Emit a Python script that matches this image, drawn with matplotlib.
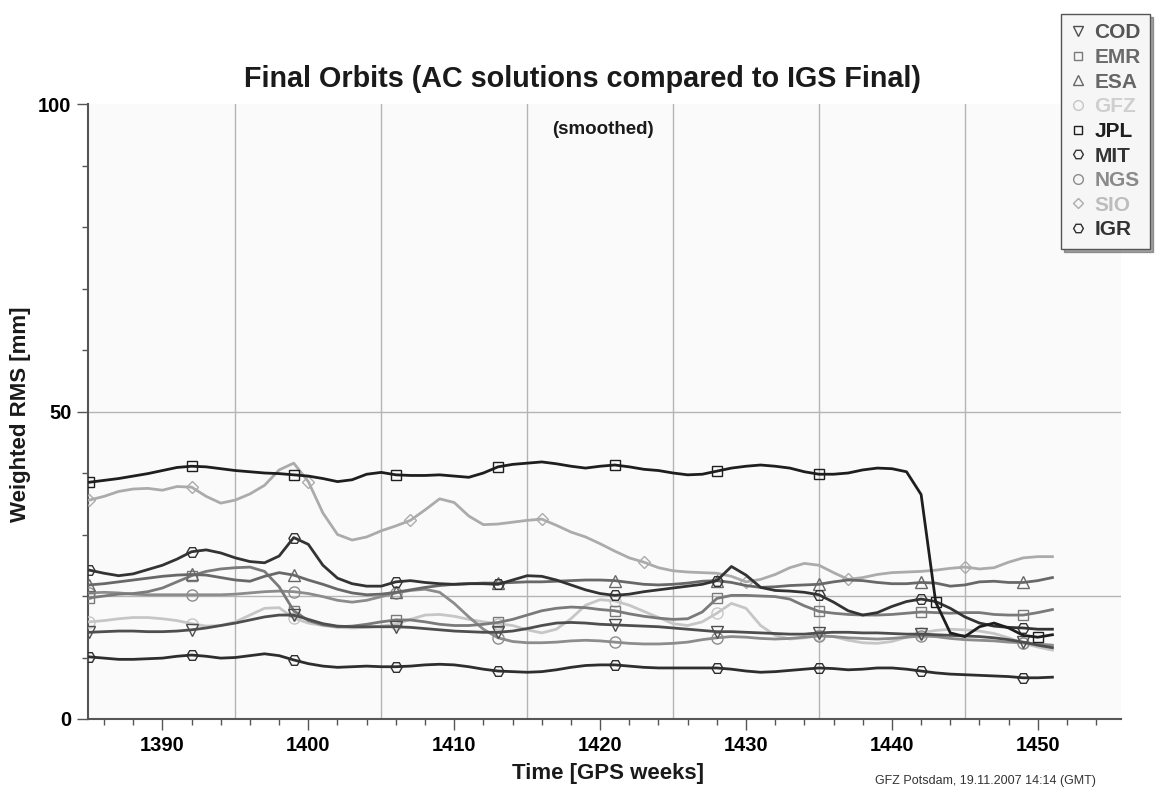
import matplotlib
matplotlib.use("Agg")
import matplotlib.pyplot as plt
from matplotlib.lines import Line2D
from matplotlib.ticker import MultipleLocator, FixedLocator

plt.rcParams['font.family'] = ['Liberation Sans', 'DejaVu Sans']
plt.rcParams['font.weight'] = 'bold'

weeks = list(range(1385, 1452))

cod = [14.1, 14.2, 14.3, 14.3, 14.2, 14.2, 14.3, 14.5, 14.8, 15.2, 15.6, 16.1, 16.6, 16.9, 16.9, 16.2, 15.5, 15.1, 15.0, 15.0,
       15.0, 15.0, 14.9, 14.7, 14.5, 14.3, 14.2, 14.1, 14.1, 14.3, 14.7, 15.2, 15.6, 15.7, 15.6, 15.4, 15.3, 15.2, 15.1, 15.0,
       14.8, 14.6, 14.4, 14.2, 14.2, 14.1, 14.0, 13.9, 13.8, 13.8, 14.0, 14.1, 14.1, 14.0, 14.0, 13.9, 13.8, 13.8, 13.7, 13.6,
       13.5, 13.4, 13.2, 12.9, 12.5, 12.0, 11.6]
emr = [19.7, 20.0, 20.3, 20.4, 20.7, 21.3, 22.3, 23.3, 24.0, 24.4, 24.6, 24.7, 24.0, 21.5, 17.6, 16.0, 15.3, 15.0, 15.1, 15.4,
       15.8, 16.1, 16.1, 15.8, 15.4, 15.2, 15.2, 15.4, 15.7, 16.2, 16.9, 17.6, 18.0, 18.2, 18.1, 17.8, 17.6, 17.1, 16.7, 16.4,
       16.2, 16.3, 17.4, 19.6, 20.1, 20.1, 20.0, 19.9, 19.5, 18.4, 17.5, 17.2, 17.0, 16.9, 16.9, 17.0, 17.2, 17.4, 17.3, 17.2,
       17.3, 17.3, 17.0, 16.9, 16.9, 17.3, 17.8]
esa = [21.8, 22.0, 22.3, 22.6, 22.9, 23.2, 23.4, 23.5, 23.4, 23.0, 22.6, 22.4, 23.2, 23.8, 23.4, 22.6, 21.9, 21.1, 20.5, 20.2,
       20.3, 20.6, 21.0, 21.4, 21.7, 21.9, 22.0, 22.1, 22.1, 22.2, 22.3, 22.3, 22.4, 22.5, 22.6, 22.6, 22.5, 22.2, 21.9, 21.8,
       21.9, 22.1, 22.4, 22.5, 22.2, 21.7, 21.4, 21.5, 21.7, 21.8, 21.9, 22.3, 22.6, 22.5, 22.2, 22.0, 22.0, 22.2, 22.1, 21.6,
       21.8, 22.3, 22.4, 22.2, 22.2, 22.5, 23.0]
gfz = [15.8, 16.0, 16.3, 16.5, 16.5, 16.3, 16.0, 15.5, 15.1, 15.2, 15.8, 16.9, 18.0, 18.1, 16.4, 15.6, 15.2, 14.9, 14.8, 14.9,
       15.1, 15.4, 16.2, 16.9, 17.0, 16.7, 16.2, 15.8, 15.5, 15.2, 14.5, 14.0, 14.6, 16.3, 18.5, 19.4, 19.2, 18.5, 17.5, 16.5,
       15.5, 15.2, 15.8, 17.2, 18.8, 18.0, 15.2, 13.6, 13.0, 13.2, 13.6, 13.4, 12.8, 12.4, 12.3, 12.6, 13.3, 14.0, 14.4, 14.6,
       14.5, 14.3, 13.9, 13.2, 12.3, 11.7, 11.2]
jpl = [38.5, 38.8, 39.1, 39.5, 39.9, 40.4, 40.9, 41.1, 41.0, 40.7, 40.4, 40.2, 40.0, 39.9, 39.7, 39.5, 39.1, 38.6, 38.9, 39.8,
       40.1, 39.7, 39.6, 39.6, 39.7, 39.5, 39.3, 40.0, 41.0, 41.4, 41.6, 41.8, 41.5, 41.1, 40.8, 41.1, 41.3, 41.0, 40.6, 40.4,
       40.0, 39.7, 39.8, 40.3, 40.8, 41.1, 41.3, 41.1, 40.8, 40.2, 39.8, 39.8, 40.0, 40.5, 40.8, 40.7, 40.2, 36.5, 19.0, 14.0,
       13.4, 15.0, 15.6, 14.8, 13.6, 13.3, 13.7]
mit = [24.2, 23.7, 23.3, 23.6, 24.3, 25.0, 26.0, 27.2, 27.5, 27.0, 26.2, 25.6, 25.4, 26.5, 29.5, 28.4, 25.0, 22.9, 22.0, 21.6,
       21.6, 22.3, 22.5, 22.2, 22.0, 21.9, 22.0, 22.0, 21.9, 22.6, 23.3, 23.2, 22.6, 21.8, 21.0, 20.4, 20.1, 20.3, 20.7, 21.0,
       21.3, 21.6, 21.9, 22.5, 24.8, 23.4, 21.4, 20.9, 20.8, 20.6, 20.2, 19.0, 17.6, 16.9, 17.3, 18.3, 19.1, 19.5, 19.1, 18.0,
       16.6, 15.6, 15.1, 14.9, 14.8, 14.6, 14.6]
ngs = [20.5, 20.6, 20.5, 20.3, 20.2, 20.2, 20.2, 20.2, 20.2, 20.2, 20.3, 20.5, 20.7, 20.8, 20.7, 20.4, 19.9, 19.3, 19.0, 19.3,
       19.9, 20.5, 20.9, 21.1, 20.6, 18.8, 16.6, 14.6, 13.2, 12.6, 12.4, 12.4, 12.5, 12.7, 12.8, 12.7, 12.5, 12.3, 12.2, 12.2,
       12.3, 12.5, 12.9, 13.2, 13.4, 13.3, 13.1, 13.0, 13.1, 13.3, 13.5, 13.4, 13.2, 13.1, 13.0, 13.1, 13.3, 13.5, 13.4, 13.1,
       12.9, 12.8, 12.7, 12.5, 12.4, 12.2, 12.0]
sio = [35.6, 36.2, 37.0, 37.4, 37.5, 37.2, 37.8, 37.7, 36.2, 35.1, 35.6, 36.6, 38.0, 40.5, 41.6, 38.6, 33.5, 30.0, 29.1, 29.6,
       30.6, 31.4, 32.3, 34.0, 35.8, 35.2, 33.0, 31.6, 31.7, 32.0, 32.3, 32.5, 31.5, 30.4, 29.6, 28.5, 27.3, 26.2, 25.5, 24.6,
       24.1, 23.9, 23.8, 23.7, 23.2, 22.3, 22.7, 23.5, 24.6, 25.3, 25.0, 23.8, 22.7, 23.0, 23.5, 23.8, 23.9, 24.0, 24.2, 24.5,
       24.7, 24.4, 24.6, 25.5, 26.2, 26.4, 26.4]
igr = [10.1, 9.9, 9.7, 9.7, 9.8, 9.9, 10.2, 10.4, 10.2, 9.9, 10.0, 10.3, 10.6, 10.3, 9.6, 9.0, 8.6, 8.4, 8.5, 8.6,
       8.5, 8.5, 8.6, 8.8, 8.9, 8.8, 8.5, 8.1, 7.8, 7.7, 7.6, 7.7, 8.0, 8.4, 8.7, 8.8, 8.8, 8.6, 8.4, 8.3,
       8.3, 8.3, 8.3, 8.3, 8.1, 7.8, 7.6, 7.7, 7.9, 8.1, 8.3, 8.2, 8.0, 8.1, 8.3, 8.3, 8.1, 7.8, 7.5, 7.3,
       7.2, 7.1, 7.0, 6.9, 6.7, 6.7, 6.8]

centers = ['COD', 'EMR', 'ESA', 'GFZ', 'JPL', 'MIT', 'NGS', 'SIO', 'IGR']
series = [cod, emr, esa, gfz, jpl, mit, ngs, sio, igr]
colors = ['#4e4e4e', '#7a7a7a', '#686868', '#c6c6c6', '#1e1e1e', '#333333', '#8c8c8c', '#ababab', '#2e2e2e']
text_colors = ['#555555', '#6a6a6a', '#666666', '#cfcfcf', '#1e1e1e', '#333333', '#8a8a8a', '#bdbdbd', '#333333']
markers = ['v', 's', '^', 'o', 's', 'H', 'o', 'D', 'H']
msizes = [8, 7, 8, 8, 7, 8, 8, 6.5, 8]

std_marks = [0, 7, 14, 21, 28, 36, 43, 50, 57, 64]
mark_idx = {'JPL': [0, 7, 14, 21, 28, 36, 43, 50, 58, 65],
            'SIO': [0, 7, 15, 22, 31, 38, 45, 52, 60]}

W, H = 1159, 789
fig = plt.figure(figsize=(W / 100, H / 100), dpi=100)
fig.patch.set_facecolor('white')
ax = fig.add_axes([88 / W, 1 - 719 / H, (1121 - 88) / W, (719 - 104) / H])
ax.set_facecolor('#fafafa')

ax.set_xlim(1384.9, 1455.7)
ax.set_ylim(0, 100)

for gx in [1395, 1405, 1415, 1425, 1435, 1445]:
    ax.axvline(gx, color='#b4b4b4', lw=1.0, zorder=1)
for gy in [20, 50]:
    ax.axhline(gy, color='#b4b4b4', lw=1.0, zorder=1)

order = [3, 7, 6, 1, 2, 0, 8, 5, 4]
for i in order:
    name = centers[i]
    ax.plot(weeks, series[i], color=colors[i], lw=2.0, marker=markers[i],
            markersize=msizes[i], markerfacecolor='none', markeredgecolor=colors[i],
            markeredgewidth=1.0, markevery=mark_idx.get(name, std_marks), zorder=3 + order.index(i) * 0.1)

for s in ['top', 'right']:
    ax.spines[s].set_visible(False)
for s in ['left', 'bottom']:
    ax.spines[s].set_color('#555555')
    ax.spines[s].set_linewidth(1.5)

ax.xaxis.set_major_locator(FixedLocator([1390, 1400, 1410, 1420, 1430, 1440, 1450]))
ax.xaxis.set_minor_locator(MultipleLocator(2))
ax.yaxis.set_major_locator(FixedLocator([0, 50, 100]))
ax.yaxis.set_minor_locator(MultipleLocator(10))
ax.tick_params(axis='both', which='major', direction='out', length=8, width=1, color='#555555',
               labelsize=14.5, pad=4)
ax.tick_params(axis='both', which='minor', direction='out', length=4, width=1, color='#555555')
for lab in ax.get_xticklabels() + ax.get_yticklabels():
    lab.set_fontweight('bold')

fig.text(608 / W, 1 - 773 / H, 'Time [GPS weeks]', ha='center', va='center',
         fontsize=16, fontweight='bold', color='#1a1a1a')
fig.text(21 / W, 1 - 414 / H, 'Weighted RMS [mm]', ha='center', va='center', rotation=90,
         fontsize=16, fontweight='bold', color='#1a1a1a')

fig.text(582 / W, 1 - 79 / H, 'Final Orbits (AC solutions compared to IGS Final)', ha='center', va='center',
         fontsize=20.7, fontweight='bold', color='#1a1a1a')
fig.text(603 / W, 1 - 129 / H, '(smoothed)', ha='center', va='center', fontsize=13.5, fontweight='bold',
         color='#1a1a1a')
fig.text(875 / W, 1 - 781 / H, 'GFZ Potsdam, 19.11.2007 14:14 (GMT)', ha='left', va='center', fontsize=9,
         fontweight='normal', color='#333333')

handles = [Line2D([], [], linestyle='none', marker=markers[i], markersize=msizes[i] - 1,
                  markerfacecolor='none', markeredgecolor=colors[i], markeredgewidth=1.0)
           for i in range(len(centers))]
leg = fig.legend(handles, centers, loc='upper left', bbox_to_anchor=(1061 / W, 1 - 14 / H),
                 bbox_transform=fig.transFigure, borderaxespad=0, frameon=True, fancybox=False,
                 shadow=True, handlelength=0.7, handletextpad=0.45, labelspacing=0.27,
                 borderpad=0.45, prop={'weight': 'bold', 'size': 15})
leg.get_frame().set_edgecolor('#555555')
leg.get_frame().set_facecolor('#f6f6f6')
leg.get_frame().set_linewidth(1.0)
for t, c in zip(leg.get_texts(), text_colors):
    t.set_color(c)

fig.savefig('out.png', dpi=100)
